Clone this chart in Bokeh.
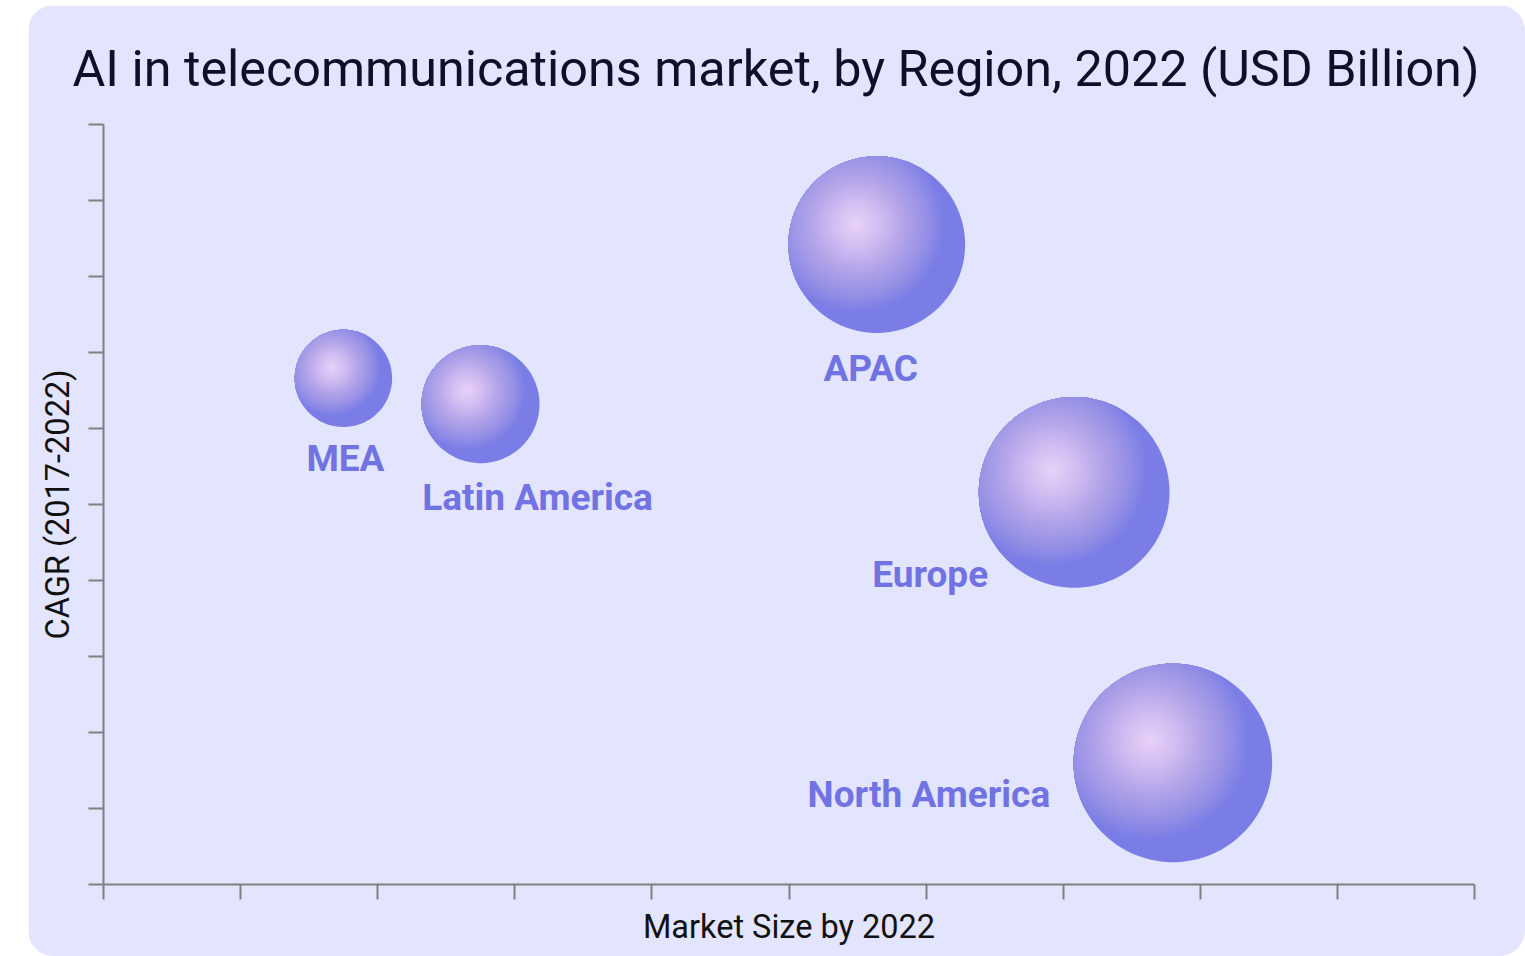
import math
from bokeh.plotting import figure
from bokeh.models import FixedTicker
from bokeh.core.properties import value
from bokeh.embed import file_html
from bokeh.resources import INLINE

# ---------------- data ----------------
regions = ["MEA", "Latin America", "APAC", "Europe", "North America"]
market_size = [1.75, 2.75, 5.64, 7.08, 7.80]      # x position (market size by 2022)
cagr = [6.66, 6.32, 8.42, 5.16, 1.60]             # y position (CAGR 2017-2022)
bubble_value = [2.37, 3.48, 7.81, 9.10, 9.86]     # bubble area (relative market size)
x_ticks = [0, 1, 2, 3, 4, 5, 6, 7, 8, 9, 10]
y_ticks = [0, 1, 2, 3, 4, 5, 6, 7, 8, 9, 10]

TITLE = "AI in telecommunications market, by Region, 2022 (USD Billion)"
X_LABEL = "Market Size by 2022"
Y_LABEL = "CAGR (2017-2022)"

# ---------------- layout / style ----------------
W, H = 1497, 951
ML, MR, MT, MB = 75, 51, 119, 72
FW = W - ML - MR
FH = H - MT - MB
XMIN, XMAX, YMIN, YMAX = 0, 10, 0, 10
PX_X = FW / (XMAX - XMIN)
PX_Y = FH / (YMAX - YMIN)
R_SCALE = 31.62          # px radius per sqrt(value)

BG = "#e3e4fe"
AXIS_C = "#808080"
LABEL_C = "#7173e3"
FONT = "Roboto"

# label offsets in screen px (dx right, dy down) relative to bubble centre
label_dx = [2, 57, -6, -144, -244]
label_dy = [80, 93, 124, 82, 32]

GRAD_STOPS = [(0.0, (231, 210, 249)), (0.25, (211, 189, 242)), (0.55, (176, 162, 232)),
              (0.8, (149, 144, 230)), (1.0, (122, 125, 230))]


def grad_color(t):
    t = max(0.0, min(1.0, t))
    for (t0, c0), (t1, c1) in zip(GRAD_STOPS[:-1], GRAD_STOPS[1:]):
        if t <= t1:
            f = (t - t0) / (t1 - t0) if t1 > t0 else 0
            c = [round(a + (b - a) * f) for a, b in zip(c0, c1)]
            return "#%02x%02x%02x" % tuple(c)
    return "#%02x%02x%02x" % GRAD_STOPS[-1][1]


p = figure(width=W, height=H, x_range=(XMIN, XMAX), y_range=(YMIN, YMAX),
           output_backend="svg", toolbar_location=None,
           min_border_left=ML, min_border_right=MR, min_border_top=MT, min_border_bottom=MB,
           background_fill_color=BG, border_fill_color=BG, outline_line_color=None,
           styles={"margin-left": "28px", "margin-top": "5px",
                   "border-radius": "26px", "overflow": "hidden"})
p.grid.visible = False

p.title.text = TITLE
p.title.text_font = FONT
p.title.text_font_size = "50.3px"
p.title.text_font_style = "normal"
p.title.text_color = "#0d1026"
p.title.align = "left"
p.title.offset = -31
if "standoff" in p.title.properties():
    p.title.standoff = 54

for ax, ticks, lab in [(p.xaxis[0], x_ticks, X_LABEL), (p.yaxis[0], y_ticks, Y_LABEL)]:
    ax.ticker = FixedTicker(ticks=ticks)
    ax.major_label_overrides = {t: "" for t in ticks}
    ax.major_label_standoff = 0
    ax.major_label_text_font_size = "0px"
    ax.major_tick_out = 15
    ax.major_tick_in = 0
    ax.minor_tick_out = 0
    ax.minor_tick_in = 0
    ax.axis_line_color = AXIS_C
    ax.axis_line_width = 2
    ax.major_tick_line_color = AXIS_C
    ax.major_tick_line_width = 2
    ax.axis_label = lab
    ax.axis_label_text_font = FONT
    ax.axis_label_text_font_size = "32.5px"
    ax.axis_label_text_font_style = "normal"
    ax.axis_label_text_color = "#111111"
p.xaxis[0].axis_label_standoff = 8
p.yaxis[0].axis_label_standoff = 12

# ---------------- bubbles with radial shading ----------------
N_LEVELS = 48
N_PTS = 120
xs_all, ys_all, cols_all = [], [], []
for X, Y, v in zip(market_size, cagr, bubble_value):
    r = math.sqrt(v) * R_SCALE
    hx, hy = -0.23 * r, -0.23 * r       # highlight offset (px, y down)
    Rg = 1.0 * r
    hh = hx * hx + hy * hy
    for k in range(N_LEVELS):
        rho = float("inf") if k == 0 else Rg * (1 - k / N_LEVELS)
        t_mid = 1.0 if k == 0 else (Rg * (1 - (k + 0.5) / N_LEVELS)) / Rg
        px, py = [], []
        for j in range(N_PTS):
            th = 2 * math.pi * j / N_PTS
            ux, uy = math.cos(th), math.sin(th)
            b = hx * ux + hy * uy
            sb = -b + math.sqrt(b * b - hh + r * r)
            s = min(rho, sb)
            qx, qy = hx + s * ux, hy + s * uy
            px.append(X + qx / PX_X)
            py.append(Y - qy / PX_Y)
        xs_all.append(px)
        ys_all.append(py)
        cols_all.append(grad_color(t_mid))

p.patches(xs_all, ys_all, fill_color=cols_all, line_color=None)

# ---------------- labels ----------------
lx = [X + dx / PX_X for X, dx in zip(market_size, label_dx)]
ly = [Y - dy / PX_Y for Y, dy in zip(cagr, label_dy)]
p.text(x=lx, y=ly, text=regions, text_align="center", text_baseline="alphabetic",
       text_font=value(FONT), text_font_style="bold", text_font_size="37px",
       text_color=LABEL_C)

open("out.html", "w").write(file_html(p, INLINE))
